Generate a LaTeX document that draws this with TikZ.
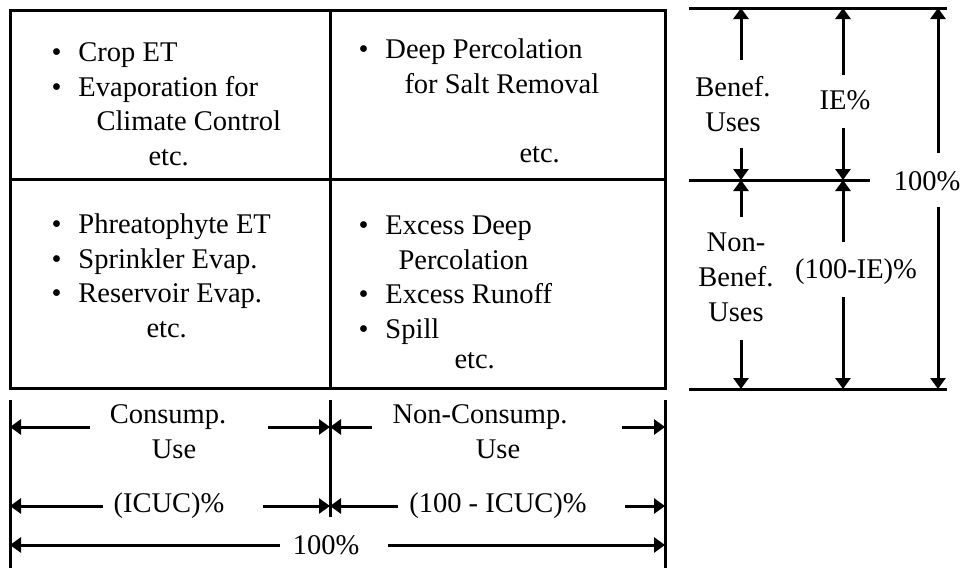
\documentclass[tikz,border=0pt]{standalone}
\usepackage{fontspec}
\setmainfont{Liberation Serif}
\usetikzlibrary{arrows.meta}
\newcommand{\bul}{\makebox[27pt][l]{\textbullet}}
\tikzset{cell/.style={anchor=north west,align=left,inner sep=0pt,
font=\fontsize{28.5}{34.5}\selectfont},
lbl/.style={align=center,inner sep=0pt,font=\fontsize{28.5}{35}\selectfont},
dim/.style={-{Triangle[length=11pt,width=15pt]}}}

\begin{document}
\begin{tikzpicture}[x=1pt,y=-1pt,line width=3pt]
	\useasboundingbox (0,0) rectangle (961,570);

	% the table of uses
	\draw (10,10) rectangle (665,388);
	\draw (330,10) -- (330,388);
	\draw (10,179) -- (665,179);

	\node[cell] (benefcons) at (50,36) {\strut\bul Crop ET\\
		\bul Evaporation for\\
		\hspace*{45pt}Climate Control\\
		\hspace*{97pt}etc.};
	\node[cell] (benefnoncons) at (357,33) {\strut\bul Deep Percolation\\
		\hspace*{46pt}for Salt Removal\\[34.5pt]
		\hspace*{161pt}etc.};
	\node[cell] (nonbenefcons) at (50,208) {\strut\bul Phreatophyte ET\\
		\bul Sprinkler Evap.\\
		\bul Reservoir Evap.\\
		\hspace*{95pt}etc.};
	\node[cell] (nonbenefnoncons) at (357,209) {\strut\bul Excess Deep\\
		\hspace*{40pt}Percolation\\
		\bul Excess Runoff\\
		\bul Spill\\[-4pt]
		\hspace*{96pt}etc.};

	% dimensions on the right
	\draw (689,8) -- (947,8);
	\draw (689,180) -- (870,180);
	\draw (689,389) -- (947,389);

	\node[lbl] (benef) at (733,104) {Benef.\\Uses};
	\node[lbl] (ie) at (845,100) {IE\%};
	\node[lbl] (total) at (927,181) {100\%};
	\node[lbl] (nonbenef) at (736,277) {Non-\\Benef.\\Uses};
	\node[lbl] (nonie) at (856,272) {(100-IE)\%};

	\foreach \x/\a/\b in {741/60/8,741/148/180,741/217/180,741/340/389,
		843/75/8,843/128/180,843/242/180,843/297/389,938/153/8,938/207/389}
		\draw[dim] (\x,\a) -- (\x,\b);

	% dimensions below
	\draw (10,400) -- (10,568);
	\draw (330,400) -- (330,517);
	\draw (665,400) -- (665,568);

	\node[lbl] (cons) at (168,432) {Consump.\\\hspace*{12pt}Use};
	\node[lbl] (noncons) at (480,432) {Non-Consump.\\\hspace*{36pt}Use};
	\node[lbl] (icuc) at (169,506) {(ICUC)\%};
	\node[lbl] (nonicuc) at (498,506) {(100 - ICUC)\%};
	\node[lbl] (all) at (326,545) {100\%};

	\foreach \y/\a/\b in {427/90/10,427/268/330,427/372/330,427/622/665,
		506/103/10,506/263/330,506/398/330,506/625/665,545/280/10,545/388/665}
		\draw[dim] (\a,\y) -- (\b,\y);
\end{tikzpicture}
\end{document}
